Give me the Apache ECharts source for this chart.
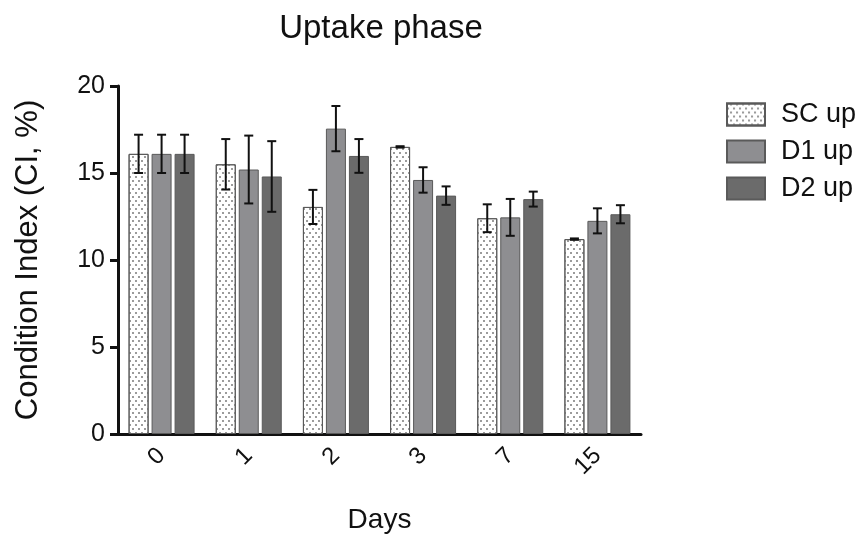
<!DOCTYPE html>
<html>
<head>
<meta charset="utf-8">
<script src="https://cdn.jsdelivr.net/npm/echarts@6/dist/echarts.min.js"></script>
<style>html,body{margin:0;padding:0;background:#fff}#c{width:864px;height:539px}</style>
</head>
<body>
<div id="c"></div>
<script>
const categories = ['0', '1', '2', '3', '7', '15'];
const seriesNames = ['SC up', 'D1 up', 'D2 up'];
const scMean = [16.1, 15.5, 13.05, 16.5, 12.4, 11.2];
const scSD   = [1.1, 1.45, 0.98, 0.04, 0.8, 0.04];
const d1Mean = [16.1, 15.2, 17.55, 14.6, 12.45, 12.25];
const d1SD   = [1.1, 1.95, 1.3, 0.73, 1.06, 0.72];
const d2Mean = [16.1, 14.8, 15.98, 13.7, 13.5, 12.63];
const d2SD   = [1.1, 2.03, 0.97, 0.53, 0.43, 0.52];
const yTicks = [0, 5, 10, 15, 20];

const FONT = 'Liberation Sans';
const means = [scMean, d1Mean, d2Mean];
const sds = [scSD, d1SD, d2SD];
const BAR_W = 20, GAP = 3;
const offsets = [-(BAR_W + GAP), 0, BAR_W + GAP];
const fills = ['#ffffff', '#8e8e91', '#6b6b6b'];
const dots = {
  symbol: 'circle', symbolSize: 1, color: '#7a7a7a',
  dashArrayX: [[2, 4], [0, 3, 2, 1]], dashArrayY: [2, 2], rotation: 0
};

const chart = echarts.init(document.getElementById('c'));
const series = [];
seriesNames.forEach((name, i) => {
  const item = { color: fills[i], borderColor: '#5a5a5a', borderWidth: 1 };
  if (i === 0) item.decal = dots;
  series.push({
    name, type: 'bar', barWidth: BAR_W, barGap: (GAP / BAR_W * 100) + '%',
    data: means[i], itemStyle: item, emphasis: { disabled: true }, z: 2
  });
});
seriesNames.forEach((name, i) => {
  series.push({
    type: 'custom', name: name + ' err', silent: true, z: 5,
    data: means[i].map((m, k) => [k, m, sds[i][k]]),
    renderItem: function (params, api) {
      const k = api.value(0), m = api.value(1), s = api.value(2);
      const x = api.coord([k, m])[0] + offsets[i];
      const yt = api.coord([k, m + s])[1];
      const yb = api.coord([k, m - s])[1];
      const hw = 4.5;
      const st = { stroke: '#111', lineWidth: 2 };
      return { type: 'group', children: [
        { type: 'line', shape: { x1: x, y1: yt, x2: x, y2: yb }, style: st },
        { type: 'line', shape: { x1: x - hw, y1: yt, x2: x + hw, y2: yt }, style: st },
        { type: 'line', shape: { x1: x - hw, y1: yb, x2: x + hw, y2: yb }, style: st }
      ]};
    }
  });
});

chart.setOption({
  animation: false,
  textStyle: { fontFamily: FONT },
  title: {
    text: 'Uptake phase', left: 376, top: 7, textAlign: 'center',
    textStyle: { fontFamily: FONT, fontSize: 33, fontWeight: 'normal', color: '#111' }
  },
  legend: {
    data: seriesNames.map((n, i) => ({ name: n, itemStyle: i === 0 ? { decal: dots } : {} })),
    orient: 'vertical', left: 721, top: 96, icon: 'rect',
    itemWidth: 38, itemHeight: 22, itemGap: 10,
    textStyle: { fontFamily: FONT, fontSize: 27, lineHeight: 26, color: '#111', padding: [0, 0, 0, 11] }
  },
  grid: { left: 118, right: 223, top: 86, bottom: 101 },
  xAxis: {
    type: 'category', data: categories,
    name: 'Days', nameLocation: 'middle', nameGap: 72,
    nameTextStyle: { fontFamily: FONT, fontSize: 28, color: '#111' },
    axisLine: { lineStyle: { color: '#111', width: 3 } },
    axisTick: { alignWithLabel: true, length: 8, lineStyle: { color: '#111', width: 3 } },
    axisLabel: { rotate: 45, margin: 18, fontFamily: FONT, fontSize: 24, color: '#111' }
  },
  yAxis: {
    type: 'value', min: 0, max: 20, interval: 5,
    name: 'Condition Index (CI, %)', nameLocation: 'middle', nameGap: 74,
    nameTextStyle: { fontFamily: FONT, fontSize: 31, color: '#111' },
    axisLine: { show: true, lineStyle: { color: '#111', width: 3 } },
    axisTick: { show: true, length: 8, lineStyle: { color: '#111', width: 3 } },
    axisLabel: { margin: 13, fontFamily: FONT, fontSize: 25, color: '#111',
      formatter: v => yTicks.includes(v) ? String(v) : '' },
    splitLine: { show: false }
  },
  series
});
</script>
</body>
</html>
